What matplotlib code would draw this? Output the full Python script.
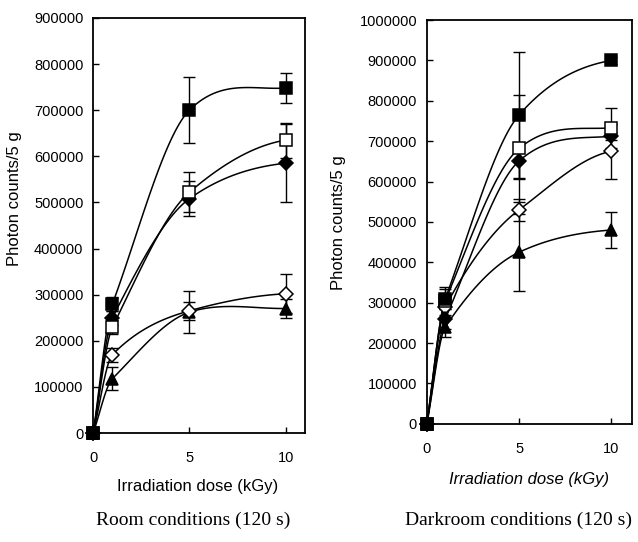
import numpy as np
import matplotlib
matplotlib.use("Agg")
import matplotlib.pyplot as plt

plt.rcParams['font.family'] = ['Liberation Sans', 'DejaVu Sans']

# irradiation doses (kGy)
dose = [0, 1, 5, 10]

# room conditions (120 s)
room_sq_fill = [0, 280000, 700000, 748000]
room_sq_fill_err = [0, 15000, 72000, 33000]
room_sq_open = [0, 230000, 522000, 635000]
room_sq_open_err = [0, 15000, 43000, 38000]
room_di_fill = [0, 250000, 508000, 585000]
room_di_fill_err = [0, 15000, 38000, 85000]
room_di_open = [0, 170000, 265000, 302000]
room_di_open_err = [0, 15000, 20000, 42000]
room_tri = [0, 118000, 262000, 270000]
room_tri_err = [0, 25000, 45000, 20000]

# darkroom conditions (120 s)
dark_sq_fill = [0, 310000, 765000, 900000]
dark_sq_fill_err = [0, 25000, 157000, 8000]
dark_sq_open = [0, 305000, 682000, 733000]
dark_sq_open_err = [0, 35000, 133000, 50000]
dark_di_fill = [0, 260000, 651000, 712000]
dark_di_fill_err = [0, 25000, 45000, 10000]
dark_di_open = [0, 290000, 530000, 675000]
dark_di_open_err = [0, 25000, 28000, 68000]
dark_tri = [0, 240000, 425000, 480000]
dark_tri_err = [0, 25000, 95000, 45000]


# smooth line through the points (cubic hermite, catmull-rom style tangents)
def smooth(x, y, n=40):
    x = np.asarray(x, float)
    y = np.asarray(y, float)
    m = np.zeros_like(y)
    for i in range(len(x)):
        if i == 0:
            m[i] = (y[1] - y[0]) / (x[1] - x[0])
        elif i == len(x) - 1:
            m[i] = (y[i] - y[i - 1]) / (x[i] - x[i - 1]) * 0.3
        else:
            m[i] = 0.8 * (y[i + 1] - y[i - 1]) / (x[i + 1] - x[i - 1])
    xs, ys = [], []
    for i in range(len(x) - 1):
        h = x[i + 1] - x[i]
        t = np.linspace(0, 1, n)
        h00 = 2 * t**3 - 3 * t**2 + 1
        h10 = t**3 - 2 * t**2 + t
        h01 = -2 * t**3 + 3 * t**2
        h11 = t**3 - t**2
        xs.append(x[i] + t * h)
        ys.append(h00 * y[i] + h10 * h * m[i] + h01 * y[i + 1] + h11 * h * m[i + 1])
    return np.concatenate(xs), np.concatenate(ys)


def draw_series(ax, y, err, marker, face, ms):
    sx, sy = smooth(dose, y)
    ax.plot(sx, sy, color="black", lw=1.1, zorder=2, clip_on=False)
    ax.errorbar(dose, y, yerr=err, fmt="none", ecolor="black", elinewidth=1.0,
                capsize=4.5, capthick=1.0, zorder=3, clip_on=False)
    ax.plot(dose, y, linestyle="none", marker=marker, ms=ms, mfc=face,
            mec="black", mew=1.1, zorder=4, clip_on=False)


def style_axes(ax, ymax, xmax):
    ax.set_xlim(0, xmax)
    ax.set_ylim(0, ymax)
    ax.set_xticks([0, 5, 10])
    ax.set_yticks(np.arange(0, ymax + 1, 100000))
    ax.set_yticklabels([str(int(v)) for v in np.arange(0, ymax + 1, 100000)])
    ax.tick_params(direction="in", length=4, width=1, labelsize=10.5)
    ax.tick_params(axis="y", pad=7)
    ax.tick_params(axis="x", pad=13)
    for s in ax.spines.values():
        s.set_linewidth(1.3)


fig = plt.figure(figsize=(6.38, 5.42), dpi=100)

# left panel
ax1 = fig.add_axes([0.146, 0.201, 0.332, 0.766])
draw_series(ax1, room_tri, room_tri_err, "^", "black", 9)
draw_series(ax1, room_di_open, room_di_open_err, "D", "white", 7.5)
draw_series(ax1, room_di_fill, room_di_fill_err, "D", "black", 7.5)
draw_series(ax1, room_sq_open, room_sq_open_err, "s", "white", 9)
draw_series(ax1, room_sq_fill, room_sq_fill_err, "s", "black", 9)
style_axes(ax1, 900000, 11)

# right panel
ax2 = fig.add_axes([0.669, 0.218, 0.321, 0.745])
draw_series(ax2, dark_tri, dark_tri_err, "^", "black", 9)
draw_series(ax2, dark_di_open, dark_di_open_err, "D", "white", 7.5)
draw_series(ax2, dark_di_fill, dark_di_fill_err, "D", "black", 7.5)
draw_series(ax2, dark_sq_open, dark_sq_open_err, "s", "white", 9)
draw_series(ax2, dark_sq_fill, dark_sq_fill_err, "s", "black", 9)
style_axes(ax2, 1000000, 11.1)

# axis titles
fig.text(0.022, 0.633, "Photon counts/5 g", rotation=90, ha="center", va="center", fontsize=12)
fig.text(0.531, 0.590, "Photon counts/5 g", rotation=90, ha="center", va="center", fontsize=12)
fig.text(0.309, 0.1015, "Irradiation dose (kGy)", ha="center", va="center", fontsize=12)
fig.text(0.829, 0.1144, "Irradiation dose (kGy)", ha="center", va="center", fontsize=12,
         style="italic")

# captions
fig.text(0.303, 0.04, "Room conditions (120 s)", ha="center", va="center",
         fontsize=14, family="Liberation Serif")
fig.text(0.812, 0.04, "Darkroom conditions (120 s)", ha="center", va="center",
         fontsize=14, family="Liberation Serif")

fig.savefig("out.png", dpi=100)
